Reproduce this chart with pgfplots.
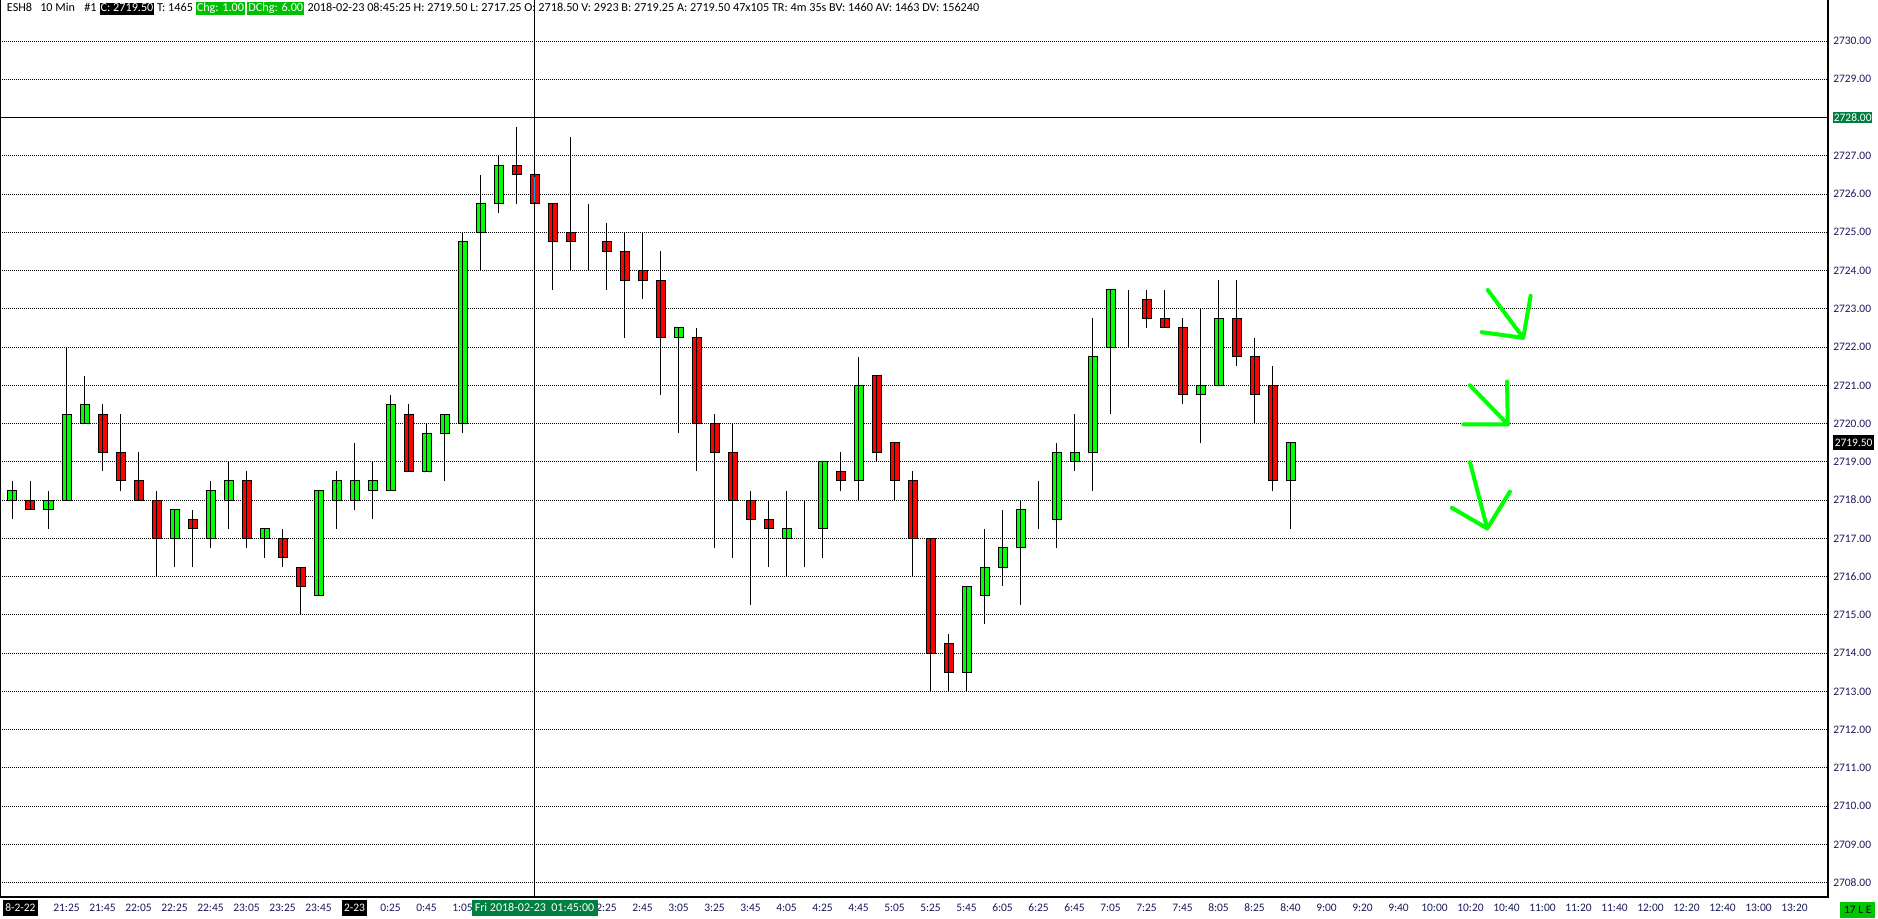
\documentclass[border=0pt]{standalone}
\usepackage{pgfplots}
\pgfplotsset{compat=1.18}
\usepackage{pgfplotstable}
\usepackage{fontspec}
\setmainfont{Carlito}
\definecolor{cgreen}{RGB}{0,255,0}
\definecolor{cred}{RGB}{255,0,0}
\definecolor{dgreen}{RGB}{0,128,64}
\definecolor{hgreen}{RGB}{0,190,0}
\definecolor{lgreen}{RGB}{0,200,0}
\definecolor{lbl}{RGB}{25,25,90}
\newcommand{\tfont}{\fontsize{8.6pt}{10pt}\selectfont}
\newcommand{\hfont}{\fontsize{9.15pt}{11pt}\selectfont}
\newcommand{\xbox}[2]{{\setlength{\fboxsep}{1.5pt}\colorbox{#1}{\rule[-2pt]{0pt}{9pt}\textcolor{white}{#2}}}}
\newcommand{\hdbox}[2]{{\setlength{\fboxsep}{0.8pt}\colorbox{#1}{\rule[-1.6pt]{0pt}{7.8pt}\textcolor{white}{#2}}}}
\newcommand{\boxA}{{\setlength{\fboxsep}{0.4pt}\colorbox{dgreen}{\rule[-0.9pt]{0pt}{7.5pt}\textcolor{white}{2728.00}}}}
\newcommand{\boxB}{{\setlength{\fboxsep}{1.1pt}\colorbox{black}{\rule[-1.9pt]{0pt}{9.2pt}\textcolor{white}{2719.50}}}}

\pgfplotstableread{
i o h l c
0 2718.00 2718.50 2717.50 2718.25
1 2718.00 2718.50 2717.75 2717.75
2 2717.75 2718.25 2717.25 2718.00
3 2718.00 2722.00 2718.00 2720.25
4 2720.00 2721.25 2720.00 2720.50
5 2720.25 2720.50 2718.75 2719.25
6 2719.25 2720.25 2718.25 2718.50
7 2718.50 2719.25 2718.00 2718.00
8 2718.00 2718.25 2716.00 2717.00
9 2717.00 2717.75 2716.25 2717.75
10 2717.50 2717.75 2716.25 2717.25
11 2717.00 2718.50 2716.75 2718.25
12 2718.00 2719.00 2717.25 2718.50
13 2718.50 2718.75 2716.75 2717.00
14 2717.00 2717.25 2716.50 2717.25
15 2717.00 2717.25 2716.25 2716.50
16 2716.25 2716.25 2715.00 2715.75
17 2715.50 2718.25 2715.50 2718.25
18 2718.00 2718.75 2717.25 2718.50
19 2718.00 2719.50 2717.75 2718.50
20 2718.25 2719.00 2717.50 2718.50
21 2718.25 2720.75 2718.25 2720.50
22 2720.25 2720.50 2718.75 2718.75
23 2718.75 2720.00 2718.75 2719.75
24 2719.75 2720.25 2718.50 2720.25
25 2720.00 2725.00 2719.75 2724.75
26 2725.00 2726.50 2724.00 2725.75
27 2725.75 2727.00 2725.50 2726.75
28 2726.75 2727.75 2725.75 2726.50
29 2726.50 2727.00 2725.75 2725.75
30 2725.75 2725.75 2723.50 2724.75
31 2725.00 2727.50 2724.00 2724.75
32 2725.00 2725.75 2724.00 2725.00
33 2724.75 2725.25 2723.50 2724.50
34 2724.50 2725.00 2722.25 2723.75
35 2724.00 2725.00 2723.25 2723.75
36 2723.75 2724.50 2720.75 2722.25
37 2722.25 2722.50 2719.75 2722.50
38 2722.25 2722.50 2718.75 2720.00
39 2720.00 2720.25 2716.75 2719.25
40 2719.25 2720.00 2716.50 2718.00
41 2718.00 2718.25 2715.25 2717.50
42 2717.50 2718.00 2716.25 2717.25
43 2717.00 2718.25 2716.00 2717.25
44 2717.00 2718.00 2716.25 2717.00
45 2717.25 2719.00 2716.50 2719.00
46 2718.75 2719.25 2718.25 2718.50
47 2718.50 2721.75 2718.00 2721.00
48 2721.25 2721.25 2719.00 2719.25
49 2719.50 2719.50 2718.00 2718.50
50 2718.50 2718.75 2716.00 2717.00
51 2717.00 2717.00 2713.00 2714.00
52 2714.25 2714.50 2713.00 2713.50
53 2713.50 2715.75 2713.00 2715.75
54 2715.50 2717.25 2714.75 2716.25
55 2716.25 2717.75 2715.75 2716.75
56 2716.75 2718.00 2715.25 2717.75
57 2717.75 2718.50 2717.25 2717.75
58 2717.50 2719.50 2716.75 2719.25
59 2719.00 2720.25 2718.75 2719.25
60 2719.25 2722.75 2718.25 2721.75
61 2722.00 2723.50 2720.25 2723.50
62 2723.25 2723.50 2722.00 2723.25
63 2723.25 2723.50 2722.50 2722.75
64 2722.75 2723.50 2722.50 2722.50
65 2722.50 2722.75 2720.50 2720.75
66 2720.75 2723.00 2719.50 2721.00
67 2721.00 2723.75 2721.00 2722.75
68 2722.75 2723.75 2721.50 2721.75
69 2721.75 2722.25 2720.00 2720.75
70 2721.00 2721.50 2718.25 2718.50
71 2718.50 2719.50 2717.25 2719.50
}\ohlc

\begin{document}
\begin{tikzpicture}
\path[use as bounding box] (0pt,-15.75pt) rectangle (1408.5pt,672.75pt);
\begin{axis}[
  at={(0pt,0pt)}, anchor=south west,
  scale only axis, width=1371pt, height=672.75pt,
  xmin=-0.6944, xmax=100.861, ymin=7.627, ymax=31.072,
  axis line style={draw=none},
  major tick length=0pt, minor tick num=0,
  ybar stacked, bar width=6.75pt,
  ymajorgrids,
  grid style={black, line width=0.75pt, dash pattern=on 0.75pt off 0.75pt},
  ytick={8,9,...,30},
  yticklabels={2708.00,2709.00,2710.00,2711.00,2712.00,2713.00,2714.00,2715.00,2716.00,2717.00,2718.00,2719.00,2720.00,2721.00,2722.00,2723.00,2724.00,2725.00,2726.00,2727.00,{\boxA},2729.00,2730.00},
  yticklabel pos=right,
  yticklabel style={anchor=west, inner sep=0pt, xshift=3.75pt, font=\tfont, text=lbl},
  extra y ticks={19.5},
  extra y tick labels={{\boxB}},
  extra y tick style={grid=none},
  xtick={0.44,3,5,7,9,11,13,15,17,19,21,23,25,33,35,37,39,41,43,45,47,49,51,53,55,57,59,61,63,65,67,69,71,73,75,77,79,81,83,85,87,89,91,93,95,97,99},
  xticklabels={{\xbox{black}{8-2-22}},21:25,21:45,22:05,22:25,22:45,23:05,23:25,23:45,{\xbox{black}{2-23}},0:25,0:45,1:05,2:25,2:45,3:05,3:25,3:45,4:05,4:25,4:45,5:05,5:25,5:45,6:05,6:25,6:45,7:05,7:25,7:45,8:05,8:25,8:40,9:00,9:20,9:40,10:00,10:20,10:40,11:00,11:20,11:40,12:00,12:20,12:40,13:00,13:20},
  xticklabel style={anchor=base, inner sep=0pt, yshift=-10.7pt, font=\tfont, text=lbl},
]
\addplot[draw=none, fill=none,
  error bars/.cd, y dir=both, y explicit, error mark=none,
  error bar style={draw=black, solid, line width=0.8pt}]
  table[x=i, y expr={min(\thisrow{o},\thisrow{c})-2700},
        y error plus expr={\thisrow{h}-min(\thisrow{o},\thisrow{c})},
        y error minus expr={min(\thisrow{o},\thisrow{c})-\thisrow{l}}] {\ohlc};
\addplot[fill=cgreen, draw=black, line width=0.75pt]
  table[x=i, y expr={max(\thisrow{c}-\thisrow{o},0)}] {\ohlc};
\addplot[fill=cred, draw=black, line width=0.75pt]
  table[x=i, y expr={max(\thisrow{o}-\thisrow{c},0)}] {\ohlc};
\end{axis}

\draw[black, line width=1pt] (0.5pt,672.75pt) -- (0.5pt,0pt) -- (1371pt,0pt) -- (1371pt,672.75pt);

\begin{scope}[every node/.style={anchor=base west, inner sep=0pt, font=\hfont}]
\node at (5pt,663.75pt) {ESH8};
\node at (30pt,663.75pt) {10 Min};
\node at (63pt,663.75pt) {\#1};
\node at (74.5pt,663.75pt) {\hdbox{black}{C: 2719.50}};
\node at (117.6pt,663.75pt) {T: 1465};
\node at (146.6pt,663.75pt) {\hdbox{hgreen}{Chg: 1.00}};
\node at (185.3pt,663.75pt) {\hdbox{hgreen}{DChg: 6.00}};
\node at (230.5pt,663.75pt) {2018-02-23 08:45:25 H: 2719.50 L: 2717.25 O: 2718.50 V: 2923 B: 2719.25 A: 2719.50 47x105 TR: 4m 35s BV: 1460 AV: 1463 DV: 156240};
\end{scope}

\begin{axis}[
  at={(0pt,0pt)}, anchor=south west,
  scale only axis, width=1371pt, height=672.75pt,
  xmin=-0.6944, xmax=100.861, ymin=2707.627, ymax=2731.072,
  hide axis, clip=false]
\addplot[black, line width=0.75pt, mark=none] coordinates {(29,2707.627) (29,2731.072)};
\addplot[black, line width=0.75pt, mark=none] coordinates {(-0.6944,2728) (100.861,2728)};
\addplot[cyan, line width=0.75pt, mark=none] coordinates {(29,2725.8) (29,2726.45)};
\addplot[cgreen, line width=3pt, line cap=round, line join=round, mark=none] coordinates {(81.96,2723.49) (83.93,2722.24)};
\addplot[cgreen, line width=3pt, line cap=round, line join=round, mark=none] coordinates {(81.62,2722.39) (83.93,2722.24) (84.34,2723.34)};
\addplot[cgreen, line width=3pt, line cap=round, line join=round, mark=none] coordinates {(80.97,2721.0) (83.07,2719.98)};
\addplot[cgreen, line width=3pt, line cap=round, line join=round, mark=none] coordinates {(80.6,2719.98) (83.07,2719.98) (83.03,2721.1)};
\addplot[cgreen, line width=3pt, line cap=round, line join=round, mark=none] coordinates {(80.97,2718.99) (81.93,2717.26)};
\addplot[cgreen, line width=3pt, line cap=round, line join=round, mark=none] coordinates {(79.96,2717.80) (81.93,2717.26) (83.19,2718.22)};
\end{axis}

\node[anchor=base, inner sep=0pt, font=\fontsize{9pt}{10pt}\selectfont] at (400.9pt,-10.7pt) {{\setlength{\fboxsep}{1.5pt}\colorbox{dgreen}{\makebox[91.5pt]{\rule[-2pt]{0pt}{9pt}\textcolor{white}{Fri 2018-02-23\ \ 01:45:00}}}}};
\node[anchor=north west, fill=lgreen, minimum width=26.25pt, minimum height=12pt, inner sep=0pt, font=\tfont] at (1380pt,-3.75pt) {17 L E};
\end{tikzpicture}
\end{document}
